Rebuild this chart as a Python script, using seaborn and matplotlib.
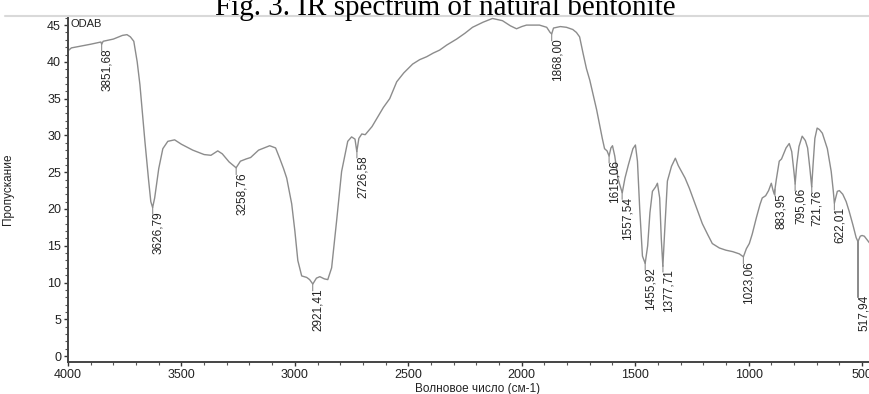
import numpy as np
import pandas as pd
import matplotlib
matplotlib.use("Agg")
import matplotlib.pyplot as plt
from matplotlib.ticker import MultipleLocator
from matplotlib.lines import Line2D
import seaborn as sns

# ---- data ----
wavenumber = [4000, 3985, 3950, 3900, 3870, 3855, 3851.7, 3845, 3800, 3760, 3740, 3725, 3710,
              3695, 3683, 3661, 3645, 3635, 3627, 3618, 3600, 3582, 3560, 3530, 3500, 3450,
              3400, 3370, 3340, 3320, 3290, 3259, 3240, 3215, 3195, 3160, 3111, 3085, 3067,
              3050, 3036, 3014, 3000, 2987, 2970, 2948, 2935, 2921, 2905, 2890, 2870, 2855,
              2838, 2816, 2794, 2767, 2750, 2735, 2727, 2718, 2705, 2690, 2660, 2639, 2610,
              2582, 2551, 2520, 2481, 2450, 2419, 2390, 2362, 2330, 2287, 2250, 2217, 2170,
              2129, 2085, 2050, 2023, 2000, 1979, 1922, 1890, 1875, 1868, 1860, 1830, 1803,
              1775, 1759, 1745, 1730, 1715, 1700, 1688, 1670, 1657, 1645, 1635, 1624, 1615,
              1607, 1600, 1590, 1575, 1557, 1545, 1530, 1510, 1499, 1490, 1480, 1468, 1456,
              1445, 1435, 1424, 1410, 1402, 1392, 1385, 1378, 1370, 1358, 1340, 1323, 1310,
              1296, 1280, 1261, 1230, 1204, 1180, 1160, 1129, 1100, 1070, 1041, 1023, 1010,
              997, 984, 966, 950, 940, 925, 912, 900, 893, 887, 878, 865, 855, 847, 835, 821,
              810, 800, 795, 788, 778, 764, 750, 740, 730, 722, 716, 708, 698, 688, 675, 653,
              636, 627, 622, 614, 609, 600, 585, 570, 557, 540, 526, 520, 518.5, 518, 517.5,
              508, 500, 490, 480, 465]
transmittance = [41.5, 41.9, 42.1, 42.4, 42.6, 42.7, 42.4, 42.8, 43.1, 43.6, 43.7, 43.4, 42.8,
                 40.0, 36.9, 29.2, 24.0, 21.0, 20.2, 21.5, 25.5, 28.2, 29.2, 29.4, 28.8, 28.0,
                 27.4, 27.3, 27.9, 27.5, 26.4, 25.6, 26.5, 26.8, 27.0, 28.0, 28.6, 28.3, 26.9,
                 25.5, 24.2, 20.7, 17.0, 13.0, 10.9, 10.7, 10.4, 9.8, 10.6, 10.8, 10.5, 10.4,
                 12.0, 18.4, 25.1, 29.2, 29.8, 29.5, 27.8, 29.6, 30.2, 30.1, 31.2, 32.3, 33.8,
                 35.0, 37.3, 38.5, 39.7, 40.3, 40.7, 41.2, 41.6, 42.3, 43.1, 43.9, 44.7, 45.4,
                 45.9, 45.6, 44.9, 44.5, 44.8, 45.0, 45.0, 44.7, 44.0, 43.8, 44.6, 44.8, 44.7,
                 44.4, 44.0, 43.4, 41.2, 39.1, 37.5, 35.9, 33.5, 31.5, 29.6, 28.2, 27.9, 27.2,
                 28.3, 28.6, 27.2, 24.0, 22.2, 24.2, 26.0, 28.2, 28.7, 26.5, 20.0, 13.6, 12.6,
                 15.0, 19.5, 22.4, 23.0, 23.5, 21.5, 16.0, 12.2, 17.0, 23.8, 25.8, 26.9, 25.9,
                 25.1, 24.2, 22.8, 20.2, 18.0, 16.5, 15.3, 14.7, 14.4, 14.2, 13.9, 13.5, 14.6,
                 15.3, 16.6, 18.8, 20.6, 21.5, 21.8, 22.5, 23.5, 22.6, 22.0, 24.0, 26.5, 26.8,
                 27.4, 28.3, 28.9, 27.8, 25.0, 23.4, 26.0, 28.5, 29.9, 29.3, 28.3, 25.5, 23.0,
                 26.0, 29.6, 31.0, 30.8, 30.3, 28.2, 25.1, 22.5, 20.8, 21.8, 22.4, 22.5, 22.0,
                 21.0, 19.7, 17.8, 16.1, 15.7, 15.5, 8.0, 15.6, 16.3, 16.4, 16.3, 15.9, 15.3]

peak_positions = [3851.68, 3626.79, 3258.76, 2921.41, 2726.58, 1868.00, 1615.06, 1557.54,
                  1455.92, 1377.71, 1023.06, 883.95, 795.06, 721.76, 622.01, 517.94]
peak_labels = ["3851,68", "3626,79", "3258,76", "2921,41", "2726,58", "1868,00", "1615,06",
               "1557,54", "1455,92", "1377,71", "1023,06", "883,95", "795,06", "721,76",
               "622,01", "517,94"]
x_ticks = [4000, 3500, 3000, 2500, 2000, 1500, 1000, 500]
y_ticks = [0, 5, 10, 15, 20, 25, 30, 35, 40, 45]

title = "Fig. 3. IR spectrum of natural bentonite"
x_label = "Волновое число (см-1)"
y_label = "Пропускание"
sample_name = "ODAB"

# ---- plotting ----
sns.set_style("white")
plt.rcParams["font.family"] = ["Liberation Sans", "DejaVu Sans"]

df = pd.DataFrame({"w": wavenumber, "T": transmittance})

fig = plt.figure(figsize=(8.7, 3.94), dpi=100)
ax = fig.add_axes([68 / 870, 32 / 394, 1 - 68 / 870, 345 / 394])

sns.lineplot(data=df, x="w", y="T", sort=False, estimator=None, ax=ax,
             color="#8c8c8c", linewidth=1.0)

ax.set_xlim(4000, 465)
ax.set_ylim(-0.8, 46.1)
ax.set_xticks(x_ticks)
ax.set_yticks(y_ticks)
ax.xaxis.set_minor_locator(MultipleLocator(100))
ax.yaxis.set_minor_locator(MultipleLocator(1))
ax.tick_params(axis="both", which="major", direction="out", length=3, width=1,
               colors="#333333", labelsize=9, pad=2)
ax.tick_params(axis="both", which="minor", direction="out", length=2, width=0.8,
               colors="#555555")
ax.tick_params(axis="y", which="both", left=True)
ax.tick_params(axis="x", which="both", bottom=True)
for lbl in ax.get_xticklabels() + ax.get_yticklabels():
    lbl.set_color("#222222")

for side in ["top", "right"]:
    ax.spines[side].set_visible(False)
for side in ["left", "bottom"]:
    ax.spines[side].set_color("#444444")
    ax.spines[side].set_linewidth(1.4)

ax.set_xlabel(x_label, fontsize=8.5, color="#222222")
ax.set_ylabel(y_label, fontsize=8.5, color="#222222")
ax.xaxis.set_label_coords(0.511, -0.06)
ax.yaxis.set_label_coords(-0.067, 0.5)

ax.text(0.003, 0.98, sample_name, transform=ax.transAxes, fontsize=8,
        va="center", ha="left", color="#222222")

# peak annotations
for pw, lab in zip(peak_positions, peak_labels):
    pv = np.interp(pw, wavenumber[::-1], transmittance[::-1])
    ax.annotate(lab, xy=(pw, pv), xytext=(4, -3), textcoords="offset points",
                rotation=90, ha="center", va="top", fontsize=8.5, color="#222222",
                annotation_clip=False)
    ax.annotate("", xy=(pw, pv), xytext=(0, -5), textcoords="offset points",
                arrowprops=dict(arrowstyle="-", color="#8c8c8c", lw=0.8,
                                shrinkA=0, shrinkB=0))

# faint scan line at the top and title
fig.add_artist(Line2D([5 / 870, 1.0], [1 - 16 / 394, 1 - 16 / 394],
                      transform=fig.transFigure, color="#d9d9d9", lw=1.5))
fig.text(445 / 870, 1 - 15 / 394, title, ha="center", va="baseline",
         fontsize=21, family=["Liberation Serif", "DejaVu Serif"], color="black")

fig.savefig("out.png", dpi=100, facecolor="white")
